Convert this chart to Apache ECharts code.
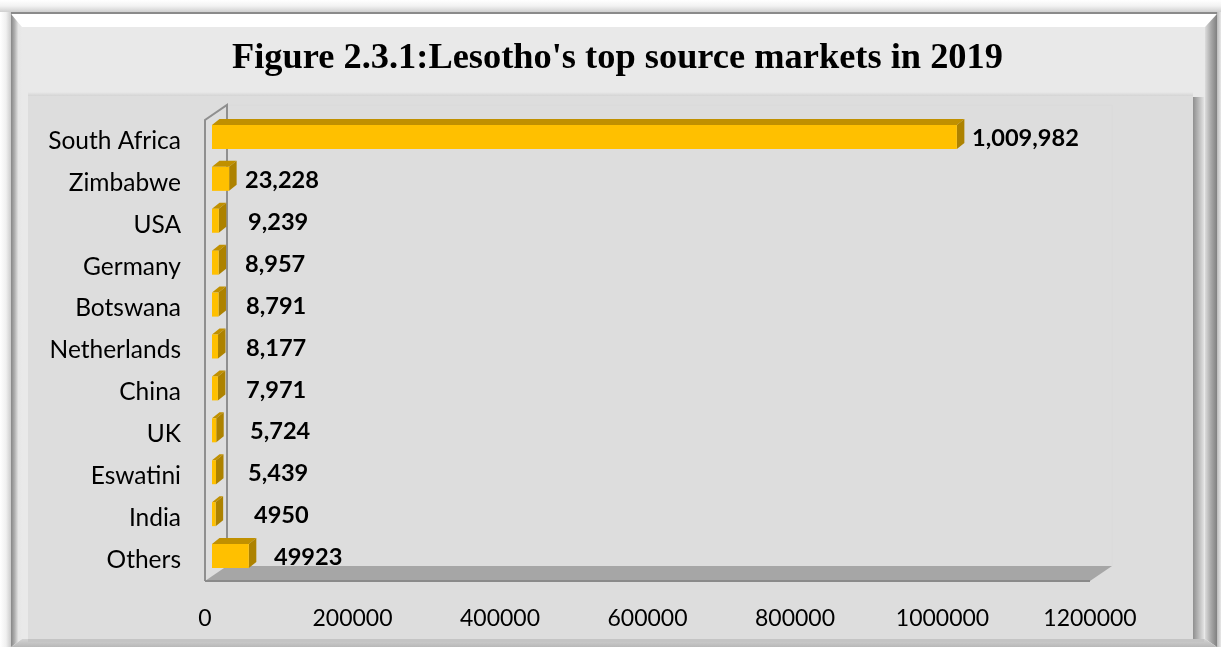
<!DOCTYPE html>
<html><head><meta charset="utf-8">
<style>html,body{margin:0;padding:0;background:#fff}#c{width:1221px;height:647px}</style>
<script src="https://cdn.jsdelivr.net/npm/echarts@6/dist/echarts.min.js"></script></head>
<body><div id="c"></div>
<script>
const categories = ['South Africa','Zimbabwe','USA','Germany','Botswana','Netherlands','China','UK','Eswatini','India','Others'];
const values = [1009982,23228,9239,8957,8791,8177,7971,5724,5439,4950,49923];
const valueLabels = ['1,009,982','23,228','9,239','8,957','8,791','8,177','7,971','5,724','5,439','4950','49923'];
const xTicks = [0,200000,400000,600000,800000,1000000,1200000];
const labelLeft = [972,245,248,245,246,246,246,250,248,254,274];

const chart = echarts.init(document.getElementById('c'), null, {renderer:'canvas'});
const poly = (points, fill, stroke, lw) => ({type:'polygon', shape:{points}, style:{fill, stroke:stroke||null, lineWidth:lw||0}});
const DX = 22, DY = 15, BX = 7.5, BY = 6;

function grad(x2,y2,stops){return new echarts.graphic.LinearGradient(0,0,x2,y2,stops.map((c,i)=>({offset:i/(stops.length-1),color:c})));}
const rect=(x,y,w,h,fill,z)=>({type:'rect',shape:{x,y,width:w,height:h},style:{fill},z:z,silent:true});
const gpoly=(points,fill,z)=>({type:'polygon',shape:{points},style:{fill},z:z,silent:true});
const graphic=[
 rect(0,0,12,647,grad(1,0,['#ffffff','#f0f0f0','#c4c4c4']),-10),
 rect(1216,0,5,647,grad(1,0,['#b0b0b0','#e8e8e8']),-10),
 rect(0,0,1221,12,grad(0,1,['#ffffff','#f2f2f2','#cfcfcf']),-10),
 rect(11,12,1206,2,'#8a8a8a',-9),
 gpoly([[12,14],[1217,14],[1205,27],[22,27]],'#ffffff',-8),
 gpoly([[11,14],[22,27],[22,639],[11,647]],grad(1,0,['#868686','#b0b0b0','#e6e6e6','#e9e9e9']),-8),
 gpoly([[1217,14],[1205,27],[1205,639],[1217,647]],grad(1,0,['#dcdcdc','#a8a8a8','#808080']),-8),
 gpoly([[22,639],[1205,639],[1217,647],[11,647]],grad(0,1,['#d2d2d2','#b8b8b8']),-8),
 rect(22,27,1183,612,'#e9e9e9',-7),
 rect(1193,97,11,545,grad(1,0,['#8f8f8f','#b8b8b8','#e2e2e2']),-6),
 rect(28,92,1165,4,grad(0,1,['#e9e9e9','#d4d4d4']),-6),
 rect(28,639,1176,3,'#c4c4c4',-6),
 rect(28,96,1165,543,'#dddddd',-4),
];

chart.setOption({
 animation:false,
 backgroundColor:'transparent',
 title:{text:"Figure 2.3.1:Lesotho's top source markets in 2019",left:227,top:36,
   textStyle:{fontFamily:'Liberation Serif',fontWeight:'bold',fontSize:36.4,color:'#000'}},
 graphic:{elements:graphic},
 grid:{left:205,right:131,top:120,bottom:66,containLabel:false},
 xAxis:{type:'value',min:0,max:1200000,interval:200000,
   axisLine:{show:false},axisTick:{show:false},splitLine:{show:false},
   axisLabel:{margin:26,fontFamily:'Lato',fontSize:23,color:'#000',
     formatter:v=>xTicks.includes(v)?String(v):''}},
 yAxis:{type:'category',inverse:true,data:categories,
   axisLine:{show:false},axisTick:{show:false},splitLine:{show:false},
   axisLabel:{margin:24,fontFamily:'Lato',fontSize:24.5,color:'#000',padding:[3,0,0,0]}},
 series:[
  {type:'custom',coordinateSystem:'cartesian2d',silent:true,z:1,
   data:[[0,0]],
   renderItem(p,api){
     const xs=p.coordSys;
     const l=xs.x,t=xs.y,b=xs.y+xs.height,r=xs.x+xs.width;
     return {type:'group',children:[
       {type:'polyline',shape:{points:[[l+DX,t-DY],[r+DX,t-DY],[r+DX,b-DY]]},style:{fill:null,stroke:'#dadada',lineWidth:1}},
       poly([[l,t],[l+DX,t-DY],[l+DX,b-DY],[l,b]],'#dedede'),
       {type:'polyline',shape:{points:[[l+DX,b-DY],[l+DX,t-DY],[l,t],[l,b]]},style:{fill:null,stroke:'#8f8f8f',lineWidth:2}},
       poly([[l,b],[l+DX,b-DY],[r+DX,b-DY],[r,b]],'#a6a6a6'),
       {type:'line',shape:{x1:l,y1:b,x2:r,y2:b},style:{stroke:'#8a8a8a',lineWidth:2}},
     ]};
   }},
  {type:'custom',coordinateSystem:'cartesian2d',silent:true,z:2,
   data:values.map((v,i)=>[v,i]),
   encode:{x:0,y:1},
   renderItem(p,api){
     const i=p.dataIndex;
     const [xv,yc]=api.coord([api.value(0),i]);
     const [x0]=api.coord([0,i]);
     const L=x0+7, R=xv+7, T=yc-16, B=yc+8;
     return {type:'group',children:[
       poly([[L,T],[L+BX,T-BY],[R+BX,T-BY],[R,T]],'#c09000'),
       poly([[R,T],[R+BX,T-BY],[R+BX,B-BY],[R,B]],'#ad8200'),
       poly([[L,T],[R,T],[R,B],[L,B]],'#ffc000'),
       {type:'text',style:{x:labelLeft[i],y:yc-2.5,text:valueLabels[i],fontFamily:'Lato',fontWeight:'bold',fontSize:23.6,fill:'#000',align:'left',verticalAlign:'middle'}}
     ]};
   }}
 ]
});
</script></body></html>
